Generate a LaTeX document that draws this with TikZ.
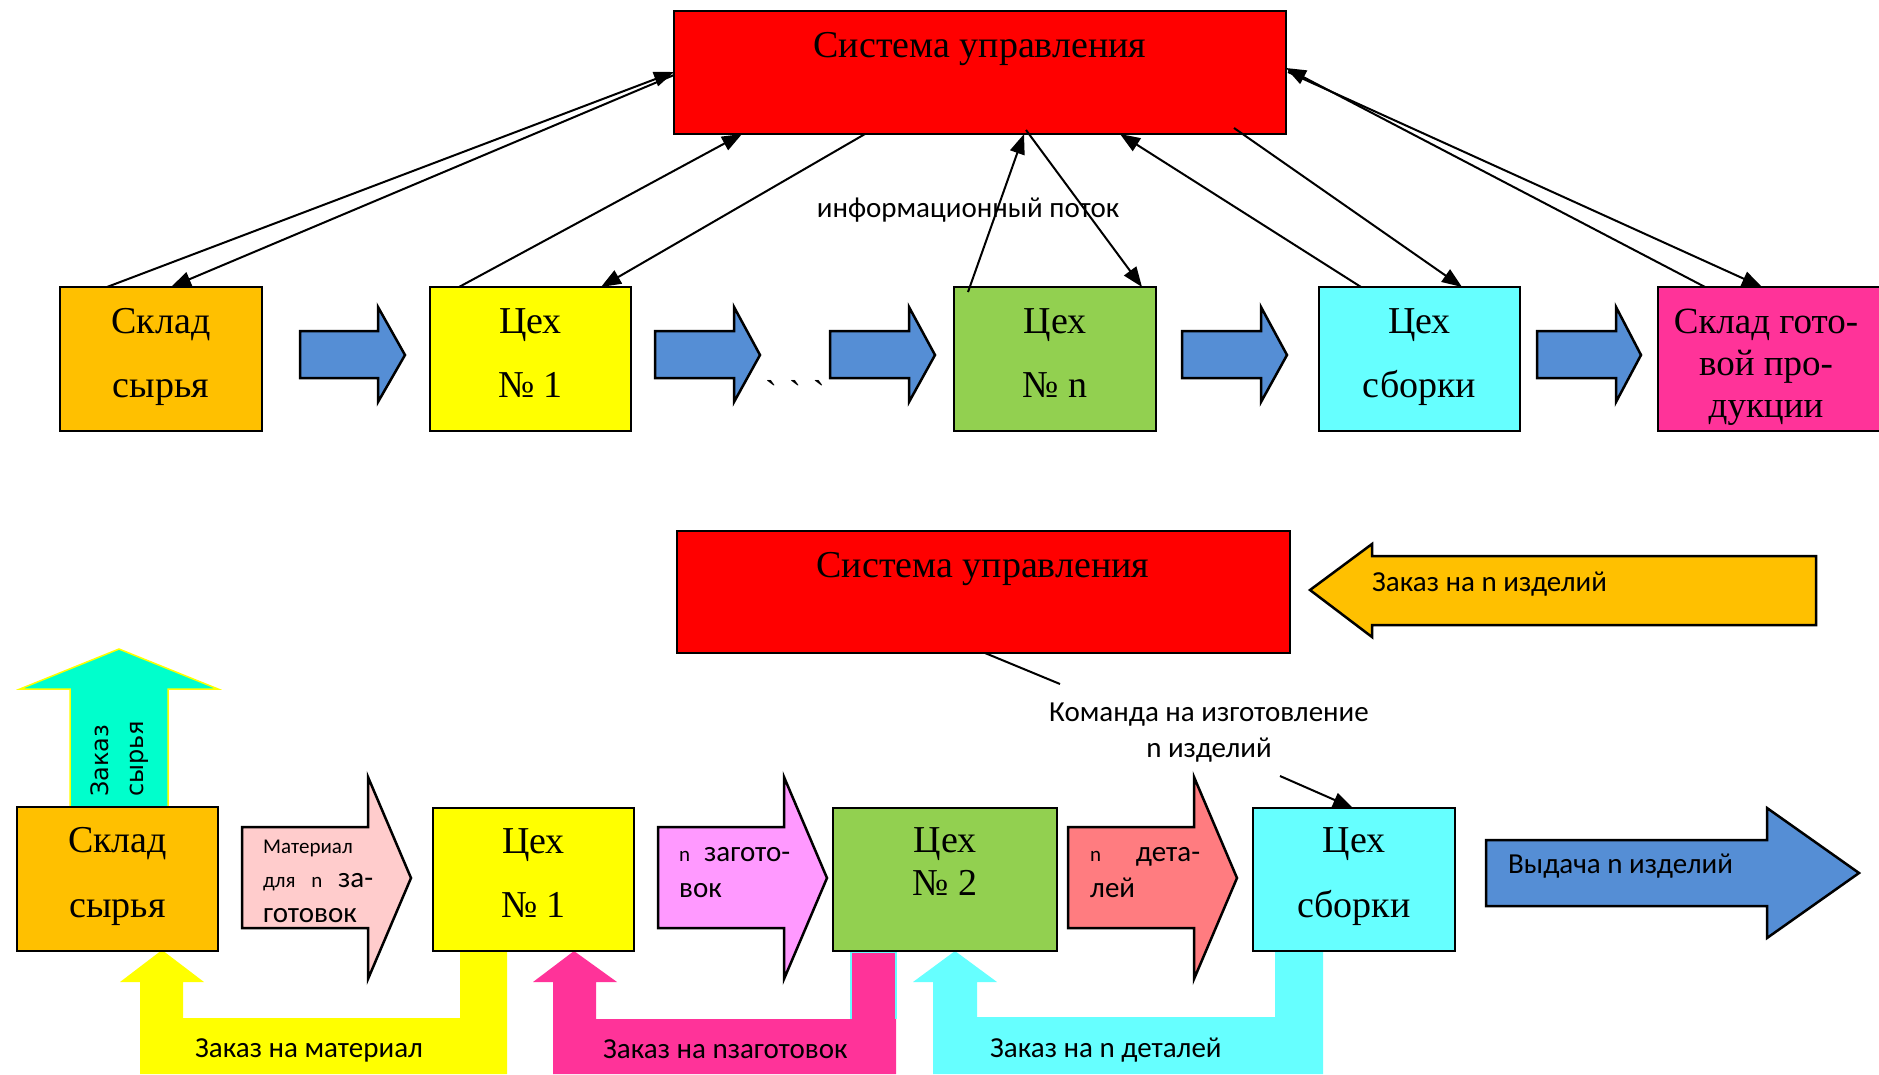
\documentclass[tikz,border=0pt]{standalone}
\usepackage{fontspec}
\setmainfont{Liberation Serif}
\newfontfamily\rawserif[Ligatures=TeXOff]{Liberation Serif}
\newfontfamily\calfont{Carlito}
\newfontfamily\vfont{DejaVu Sans}
\usetikzlibrary{arrows.meta,calc}

\definecolor{cOrange}{HTML}{FFC000}
\definecolor{cYellow}{HTML}{FFFF00}
\definecolor{cGreen}{HTML}{92D050}
\definecolor{cCyan}{HTML}{66FFFF}
\definecolor{cMagenta}{HTML}{FF3399}
\definecolor{cRed}{HTML}{FF0000}
\definecolor{cBlue}{HTML}{558ED5}
\definecolor{cTeal}{HTML}{00FFCC}
\definecolor{cPeach}{HTML}{FFCCCC}
\definecolor{cViolet}{HTML}{FF99FF}
\definecolor{cSalmon}{HTML}{FF7C80}

% centred and left-aligned multi-line text whose base is the first baseline
\newcommand\cstack[1]{\begin{tabular}[t]{@{}c@{}}#1\end{tabular}}
\newcommand\lstack[1]{\begin{tabular}[t]{@{}l@{}}#1\end{tabular}}
\newcommand\smalln{\fontsize{21}{21}\selectfont}

\begin{document}
\begin{tikzpicture}[x=1pt,y=-1pt,
  box/.style={draw=black, line width=2.5pt, anchor=north west, inner sep=0pt, outer sep=0pt},
  conn/.style={line width=2pt, -{Triangle[length=20pt,width=15pt]}},
  plainline/.style={line width=2pt},
  blk/.style={draw=black, line width=2.5pt, line join=miter},
  boxtext/.style={inner sep=0pt, anchor=base, font=\fontsize{38}{64}\selectfont},
  lbl/.style={inner sep=0pt, font=\calfont\fontsize{29}{36}\selectfont},
]
\fill[white] (0,0) rectangle (1879,1074);
\useasboundingbox (0,0) rectangle (1879,1074);

% ================= upper scheme =================
\node[box, fill=cRed, minimum width=612pt, minimum height=123pt] (ctrl1) at (674,11) {};
\node[box, fill=cOrange, minimum width=202pt, minimum height=144pt] (s1) at (60,287) {};
\node[box, fill=cYellow, minimum width=201pt, minimum height=144pt] (c1) at (430,287) {};
\node[box, fill=cGreen, minimum width=202pt, minimum height=144pt] (cn) at (954,287) {};
\node[box, fill=cCyan, minimum width=201pt, minimum height=144pt] (ca) at (1319,287) {};
\node[box, fill=cMagenta, minimum width=226pt, minimum height=144pt] (sg) at (1658,287) {};

% material flow arrows
\draw[blk, fill=cBlue] (300,331)--(378,331)--(378,307)--(405,355)--(378,402)--(378,378)--(300,378)--cycle;
\draw[blk, fill=cBlue] (655,331)--(734,331)--(734,307)--(760,355)--(734,402)--(734,378)--(655,378)--cycle;
\draw[blk, fill=cBlue] (830,331)--(909,331)--(909,307)--(935,355)--(909,402)--(909,378)--(830,378)--cycle;
\draw[blk, fill=cBlue] (1182,331)--(1261,331)--(1261,307)--(1287,355)--(1261,402)--(1261,378)--(1182,378)--cycle;
\draw[blk, fill=cBlue] (1537,331)--(1616,331)--(1616,307)--(1641,355)--(1616,402)--(1616,378)--(1537,378)--cycle;

\node[boxtext] (t0) at (980,57) {Система управления};
\node[boxtext] (t1) at ($(s1.north)+(0,46)$) {\cstack{Склад\\сырья}};
\node[boxtext] (t2) at ($(c1.north)+(0,46)$) {\cstack{Цех\\№ 1}};
\node[boxtext] (t3) at ($(cn.north)+(0,46)$) {\cstack{Цех\\№ n}};
\node[boxtext] (t4) at ($(ca.north)+(0,46)$) {\cstack{Цех\\сборки}};
\node[boxtext, font=\fontsize{37}{42}\selectfont] (t5) at (1766,333) {\cstack{Склад гото-\\вой про-\\дукции}};
\node[boxtext, font=\rawserif\fontsize{36}{36}\selectfont] (dots) at (795,405) {`\,\,`\,\,`};

\node[lbl, anchor=base] (info) at (968,217) {информационный поток};

% information links
\draw[conn] ($(s1.north west)+(47,0)$) -- ($(ctrl1.north west)+(0,61)$);
\draw[conn] ($(ctrl1.north west)+(0,64)$) -- ($(s1.north west)+(111,0)$);
\draw[conn] ($(c1.north west)+(29,0)$) -- ($(ctrl1.south west)+(68,0)$);
\draw[conn] ($(ctrl1.south west)+(191,0)$) -- ($(c1.north west)+(171,0)$);
\draw[conn] ($(cn.north west)+(14,5)$) -- ($(ctrl1.south west)+(350,0)$);
\draw[conn] ($(ctrl1.south west)+(352,-4)$) -- ($(cn.north west)+(188,0)$);
\draw[conn] ($(ca.north west)+(42,0)$) -- ($(ctrl1.south west)+(446,0)$);
\draw[conn] ($(ctrl1.south west)+(560,-6)$) -- ($(ca.north west)+(143,0)$);
\draw[conn] ($(sg.north west)+(47,0)$) -- ($(ctrl1.north east)+(0,57)$);
\draw[conn] ($(ctrl1.north east)+(2,61)$) -- ($(sg.north west)+(104,0)$);

% ================= lower scheme =================
% order feedback bands
\fill[cYellow] (460,951)--(507,951)--(507,1074)--(140,1074)--(140,982)--(120,982)--(162,950)--(204,982)--(183,982)--(183,1018)--(460,1018)--cycle;
\fill[cMagenta] (851,951)--(896,951)--(896,1074)--(553,1074)--(553,982)--(533,982)--(574,951)--(617,982)--(596,982)--(596,1019)--(851,1019)--cycle;
\draw[cCyan, line width=1.5pt] (851,1019)--(851,952)--(896,952)--(896,1019);
\fill[cCyan] (1275,951)--(1323,951)--(1323,1074)--(933,1074)--(933,982)--(913,982)--(955,951)--(997,982)--(977,982)--(977,1017)--(1275,1017)--cycle;

% raw material order arrow
\draw[draw=cYellow, line width=1.5pt, fill=cTeal] (70,808)--(70,689)--(20,689)--(119,649)--(218,689)--(168,689)--(168,808);

\node[box, fill=cRed, minimum width=613pt, minimum height=122pt] (ctrl2) at (677,531) {};
\node[box, fill=cOrange, minimum width=201pt, minimum height=144pt] (s2) at (17,807) {};
\node[box, fill=cYellow, minimum width=201pt, minimum height=143pt] (c21) at (433,808) {};
\node[box, fill=cGreen, minimum width=224pt, minimum height=143pt] (c22) at (833,808) {};
\node[box, fill=cCyan, minimum width=202pt, minimum height=143pt] (ca2) at (1253,808) {};

% block arrows
\draw[blk, fill=cOrange] (1816,556)--(1372,556)--(1372,544)--(1310,590)--(1372,637)--(1372,625)--(1816,625)--cycle;
\draw[blk, fill=cPeach] (242,827)--(368,827)--(368,777)--(411,878)--(368,979)--(368,928)--(242,928)--cycle;
\draw[blk, fill=cViolet] (658,827)--(784,827)--(784,777)--(827,878)--(784,979)--(784,928)--(658,928)--cycle;
\draw[blk, fill=cSalmon] (1068,827)--(1194,827)--(1194,777)--(1237,878)--(1194,979)--(1194,928)--(1068,928)--cycle;
\draw[blk, fill=cBlue] (1486,840)--(1767,840)--(1767,808)--(1859,873)--(1767,938)--(1767,906)--(1486,906)--cycle;

\node[boxtext] (u0) at (983,577) {Система управления};
\node[boxtext, font=\fontsize{38}{65}\selectfont] (u1) at ($(s2.north)+(0,45)$) {\cstack{Склад\\сырья}};
\node[boxtext] (u2) at ($(c21.north)+(0,45)$) {\cstack{Цех\\№ 1}};
\node[boxtext, font=\fontsize{38}{43}\selectfont] (u3) at ($(c22.north)+(0,44)$) {\cstack{Цех\\№ 2}};
\node[boxtext, font=\fontsize{38}{65}\selectfont] (u4) at ($(ca2.north)+(0,44)$) {\cstack{Цех\\сборки}};

\node[inner sep=0pt, rotate=90, anchor=base west, font=\vfont\fontsize{24}{35}\selectfont] (zs) at (108,797) {\lstack{Заказ\\сырья}};

\node[lbl, anchor=base west, font=\calfont\fontsize{29}{34.5}\selectfont] (zm) at (263,853)
  {\lstack{{\smalln Материал}\\\hbox to 110pt{{\smalln для}\hfill{\smalln n}\hfill за-}\\готовок}};
\node[lbl, anchor=base west] (zz) at (679,861) {\lstack{\hbox to 111pt{{\smalln n}\hfill загото-}\\вок}};
\node[lbl, anchor=base west] (zd) at (1090,861) {\lstack{\hbox to 110pt{{\smalln n}\hfill дета-}\\лей}};

\node[lbl, anchor=base west] (zn) at (1372,591) {Заказ на n изделий};
\node[lbl, anchor=base west] (vy) at (1508,873) {Выдача n изделий};
\node[lbl, anchor=base] (cmd) at (1209,721) {\cstack{Команда на изготовление\\n изделий}};
\node[lbl, anchor=base west] (om) at (195,1057) {Заказ на материал};
\node[lbl, anchor=base west] (oz) at (603,1058) {Заказ на nзаготовок};
\node[lbl, anchor=base west] (od) at (990,1057) {Заказ на n деталей};

% command links
\coordinate (k1) at (1060,684);
\coordinate (k2) at (1280,776);
\draw[plainline] ($(ctrl2.south west)+(308,0)$) -- (k1);
\draw[conn] (k2) -- ($(ca2.north west)+(100,0)$);

\end{tikzpicture}
\end{document}
